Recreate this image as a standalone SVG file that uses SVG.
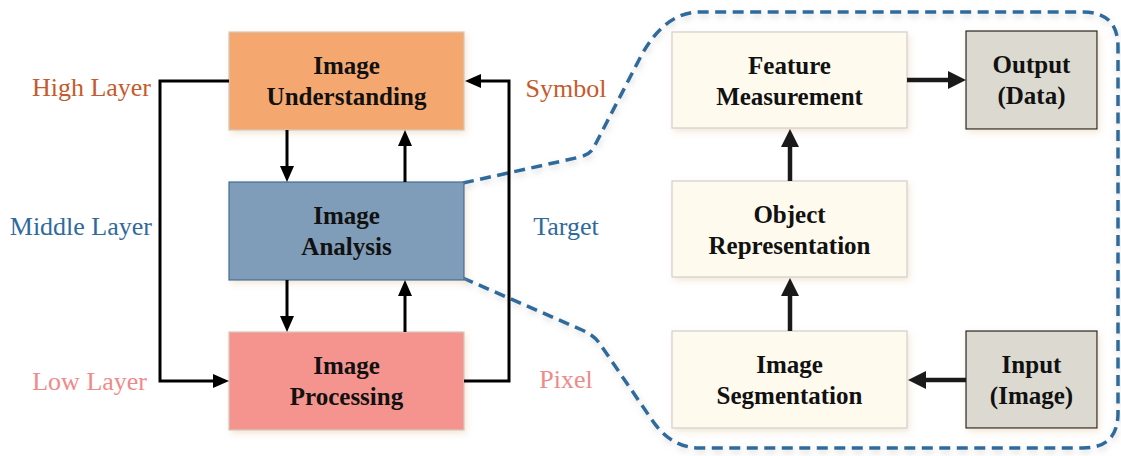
<svg xmlns="http://www.w3.org/2000/svg" width="1121" height="456" viewBox="0 0 1121 456">
  <style>
    .box { stroke-width: 1.2; }
    .lbl { font-family: "Liberation Serif", "Times New Roman", serif; font-weight: bold; font-size: 25px; fill: #111; text-anchor: middle; }
    .side { font-family: "Liberation Serif", "Times New Roman", serif; font-size: 26px; }
    .wire { fill: none; stroke: #000; stroke-width: 3; }
    .thick { fill: none; stroke: #1a1a1a; stroke-width: 4.5; }
    .frame { fill: none; stroke: #2e6b9c; stroke-width: 3.5; stroke-dasharray: 11 6.5; }
  </style>
  <defs>
    <filter id="soft" x="-10%" y="-10%" width="125%" height="130%">
      <feDropShadow dx="2" dy="3" stdDeviation="3" flood-color="#d8b27a" flood-opacity="0.3"/>
    </filter>
    <filter id="haze" x="-5%" y="-5%" width="110%" height="110%">
      <feDropShadow dx="1" dy="3" stdDeviation="3" flood-color="#8a8a8a" flood-opacity="0.35"/>
    </filter>
    <marker id="head" markerUnits="userSpaceOnUse" markerWidth="16" markerHeight="14" refX="3" refY="7" orient="auto">
      <path d="M0,0 L16,7 L0,14 z" fill="#000"/>
    </marker>
    <marker id="headBig" markerUnits="userSpaceOnUse" markerWidth="18" markerHeight="18" refX="3" refY="9" orient="auto">
      <path d="M0,0 L18,9 L0,18 z" fill="#1a1a1a"/>
    </marker>
  </defs>

  <!-- dashed zoom-out outline around the analysis pipeline -->
  <path class="frame" filter="url(#haze)" d="M463,183 L578,157.5 Q590,155 594,147 L640,58 Q664,12 700,12 L1083,12 Q1118,12 1118,47 L1118,413 Q1118,448 1083,448 L700,448 Q671,448 652,420 L600,344 Q594,335 582,330 L463,278"/>

  <!-- level labels -->
  <g id="labels">
    <text class="side" x="151" y="96" text-anchor="end" fill="#c65a2d">High Layer</text>
    <text class="side" x="152" y="235" text-anchor="end" fill="#2f6a9c">Middle Layer</text>
    <text class="side" x="147" y="390" text-anchor="end" fill="#ef8a8a">Low Layer</text>
    <text class="side" x="566" y="97" text-anchor="middle" fill="#c65a2d">Symbol</text>
    <text class="side" x="566" y="235" text-anchor="middle" fill="#2f6a9c">Target</text>
    <text class="side" x="566" y="388" text-anchor="middle" fill="#ef8a8a">Pixel</text>
  </g>

  <!-- three-level stack -->
  <g id="image-understanding">
    <rect class="box" x="229" y="32" width="235" height="98" fill="#f4a870" stroke="#d4c8bc" filter="url(#soft)"/>
    <text class="lbl" x="346.5" y="74">Image</text>
    <text class="lbl" x="346.5" y="105">Understanding</text>
  </g>
  <g id="image-analysis">
    <rect class="box" x="229" y="182" width="235" height="98" fill="#7f9db8" stroke="#3d6e99" filter="url(#soft)"/>
    <text class="lbl" x="346.5" y="224">Image</text>
    <text class="lbl" x="346.5" y="255">Analysis</text>
  </g>
  <g id="image-processing">
    <rect class="box" x="229" y="332" width="235" height="98" fill="#f5948e" stroke="#d4c8bc" filter="url(#soft)"/>
    <text class="lbl" x="346.5" y="374">Image</text>
    <text class="lbl" x="346.5" y="405">Processing</text>
  </g>

  <!-- analysis pipeline -->
  <g id="feature-measurement">
    <rect class="box" x="672" y="32" width="235" height="96" fill="#fffaee" stroke="#cfcfcf" filter="url(#soft)"/>
    <text class="lbl" x="789.5" y="74">Feature</text>
    <text class="lbl" x="789.5" y="105">Measurement</text>
  </g>
  <g id="object-representation">
    <rect class="box" x="672" y="181" width="235" height="96" fill="#fffaee" stroke="#cfcfcf" filter="url(#soft)"/>
    <text class="lbl" x="789.5" y="223">Object</text>
    <text class="lbl" x="789.5" y="254">Representation</text>
  </g>
  <g id="image-segmentation">
    <rect class="box" x="672" y="331" width="235" height="97" fill="#fffaee" stroke="#cfcfcf" filter="url(#soft)"/>
    <text class="lbl" x="789.5" y="373">Image</text>
    <text class="lbl" x="789.5" y="404">Segmentation</text>
  </g>
  <g id="output-data">
    <rect class="box" x="966" y="31" width="131" height="98" fill="#dcdad0" stroke="#222" filter="url(#soft)"/>
    <text class="lbl" x="1031.5" y="73">Output</text>
    <text class="lbl" x="1031.5" y="104">(Data)</text>
  </g>
  <g id="input-image">
    <rect class="box" x="966" y="331" width="131" height="97" fill="#dcdad0" stroke="#222" filter="url(#soft)"/>
    <text class="lbl" x="1031.5" y="373">Input</text>
    <text class="lbl" x="1031.5" y="404">(Image)</text>
  </g>

  <!-- connectors -->
  <g id="connectors">
    <line class="wire" x1="287" y1="130" x2="287" y2="169" marker-end="url(#head)"/>
    <line class="wire" x1="405" y1="182" x2="405" y2="143" marker-end="url(#head)"/>
    <line class="wire" x1="287" y1="280" x2="287" y2="319" marker-end="url(#head)"/>
    <line class="wire" x1="405" y1="332" x2="405" y2="293" marker-end="url(#head)"/>
    <path class="wire" d="M229,81 H160 V381 H216" marker-end="url(#head)"/>
    <path class="wire" d="M464,381 H509 V81 H478" marker-end="url(#head)"/>

    <line class="thick" x1="907" y1="80" x2="951" y2="80" marker-end="url(#headBig)"/>
    <line class="thick" x1="790" y1="181" x2="790" y2="144" marker-end="url(#headBig)"/>
    <line class="thick" x1="790" y1="331" x2="790" y2="293" marker-end="url(#headBig)"/>
    <line class="thick" x1="966" y1="380" x2="923" y2="380" marker-end="url(#headBig)"/>
  </g>
</svg>
